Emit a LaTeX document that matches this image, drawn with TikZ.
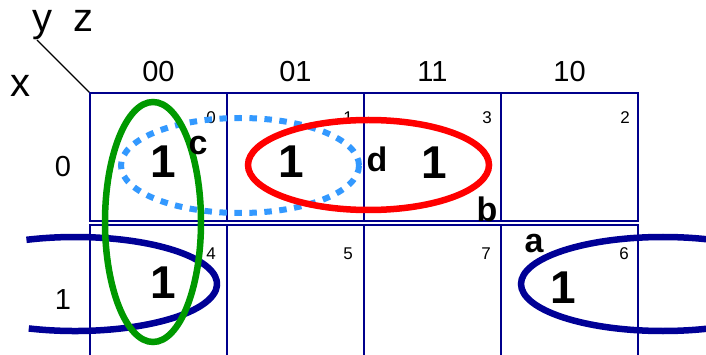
\documentclass[tikz,border=0pt]{standalone}
\usepackage{fontspec}
\setmainfont{Liberation Sans}
\definecolor{gridnavy}{RGB}{0,0,140}
\definecolor{loopnavy}{RGB}{0,0,150}
\definecolor{loopgreen}{RGB}{0,153,0}
\definecolor{loopred}{RGB}{255,0,0}
\definecolor{loopblue}{RGB}{51,153,255}
\begin{document}
\begin{tikzpicture}[x=1pt,y=-1pt,
  txt/.style={inner sep=0pt, anchor=base},
  axislbl/.style={txt, font=\fontsize{40}{40}\selectfont},
  hdr/.style={txt, font=\fontsize{29}{29}\selectfont},
  idx/.style={inner sep=0pt, anchor=base east, font=\fontsize{17}{17}\selectfont},
  one/.style={txt, font=\bfseries\fontsize{46}{46}\selectfont},
  tag/.style={txt, font=\bfseries\fontsize{34}{34}\selectfont},
  gridline/.style={draw=gridnavy, line width=1.8pt},
  loop/.style={line width=6.5pt}
]
\clip (0,0) rectangle (706,355);
\fill[white] (0,0) rectangle (706,355);

% axis labels
\node[axislbl] (ly) at (42,32) {y};
\node[axislbl] (lz) at (83,32) {z};
\node[axislbl] (lx) at (20,97) {x};
\coordinate (diagA) at (37,40);
\coordinate (diagB) at (90,93);
\draw[line width=1.3pt] (diagA) -- (diagB);

% column headers
\node[hdr] (c00) at (158.5,82) {00};
\node[hdr] (c01) at (295.5,82) {01};
\node[hdr] (c11) at (432.5,82) {11};
\node[hdr] (c10) at (569.5,82) {10};
% row headers
\node[hdr] (r0) at (63,177) {0};
\node[hdr] (r1) at (63,309) {1};

% grid
\draw[gridline] (90,221) -- (90,93) -- (638,93) -- (638,221) -- cycle;
\draw[gridline] (227,93) -- (227,221);
\draw[gridline] (364,93) -- (364,221);
\draw[gridline] (501,93) -- (501,221);
\draw[gridline] (90,370) -- (90,225) -- (638,225) -- (638,370);
\draw[gridline] (227,225) -- (227,370);
\draw[gridline] (364,225) -- (364,370);
\draw[gridline] (501,225) -- (501,370);

% cell indices
\node[idx] (i0) at (216,124) {0};
\node[idx] (i1) at (353,124) {1};
\node[idx] (i3) at (492,124) {3};
\node[idx] (i2) at (630,124) {2};
\node[idx] (i4) at (216,259) {4};
\node[idx] (i5) at (353,259) {5};
\node[idx] (i7) at (491,259) {7};
\node[idx] (i6) at (629,259) {6};

% loops
\draw[loopblue, line width=6pt, dash pattern=on 7.5pt off 7.5pt]
  (240,165.5) ellipse [x radius=119, y radius=47.5];
\draw[loopred, loop] (368.5,165) ellipse [x radius=120.5, y radius=45];
\draw[loopnavy, loop] (75,284) ++(109:142 and 47) arc [start angle=109, end angle=-110, x radius=142, y radius=47];
\draw[loopnavy, loop] (663,284) ellipse [x radius=142, y radius=47];
\draw[loopgreen, loop] (153,222) ellipse [x radius=48, y radius=120];

% ones
\node[one] (v0) at (163,178) {1};
\node[one] (v1) at (291,178) {1};
\node[one] (v3) at (434,179) {1};
\node[one] (v4) at (163,298) {1};
\node[one] (v6) at (563,303) {1};

% tags
\node[tag] (ta) at (534,252) {a};
\node[tag] (tb) at (487,222) {b};
\node[tag] (tc) at (198,155) {c};
\node[tag] (td) at (377,172) {d};
\end{tikzpicture}
\end{document}
